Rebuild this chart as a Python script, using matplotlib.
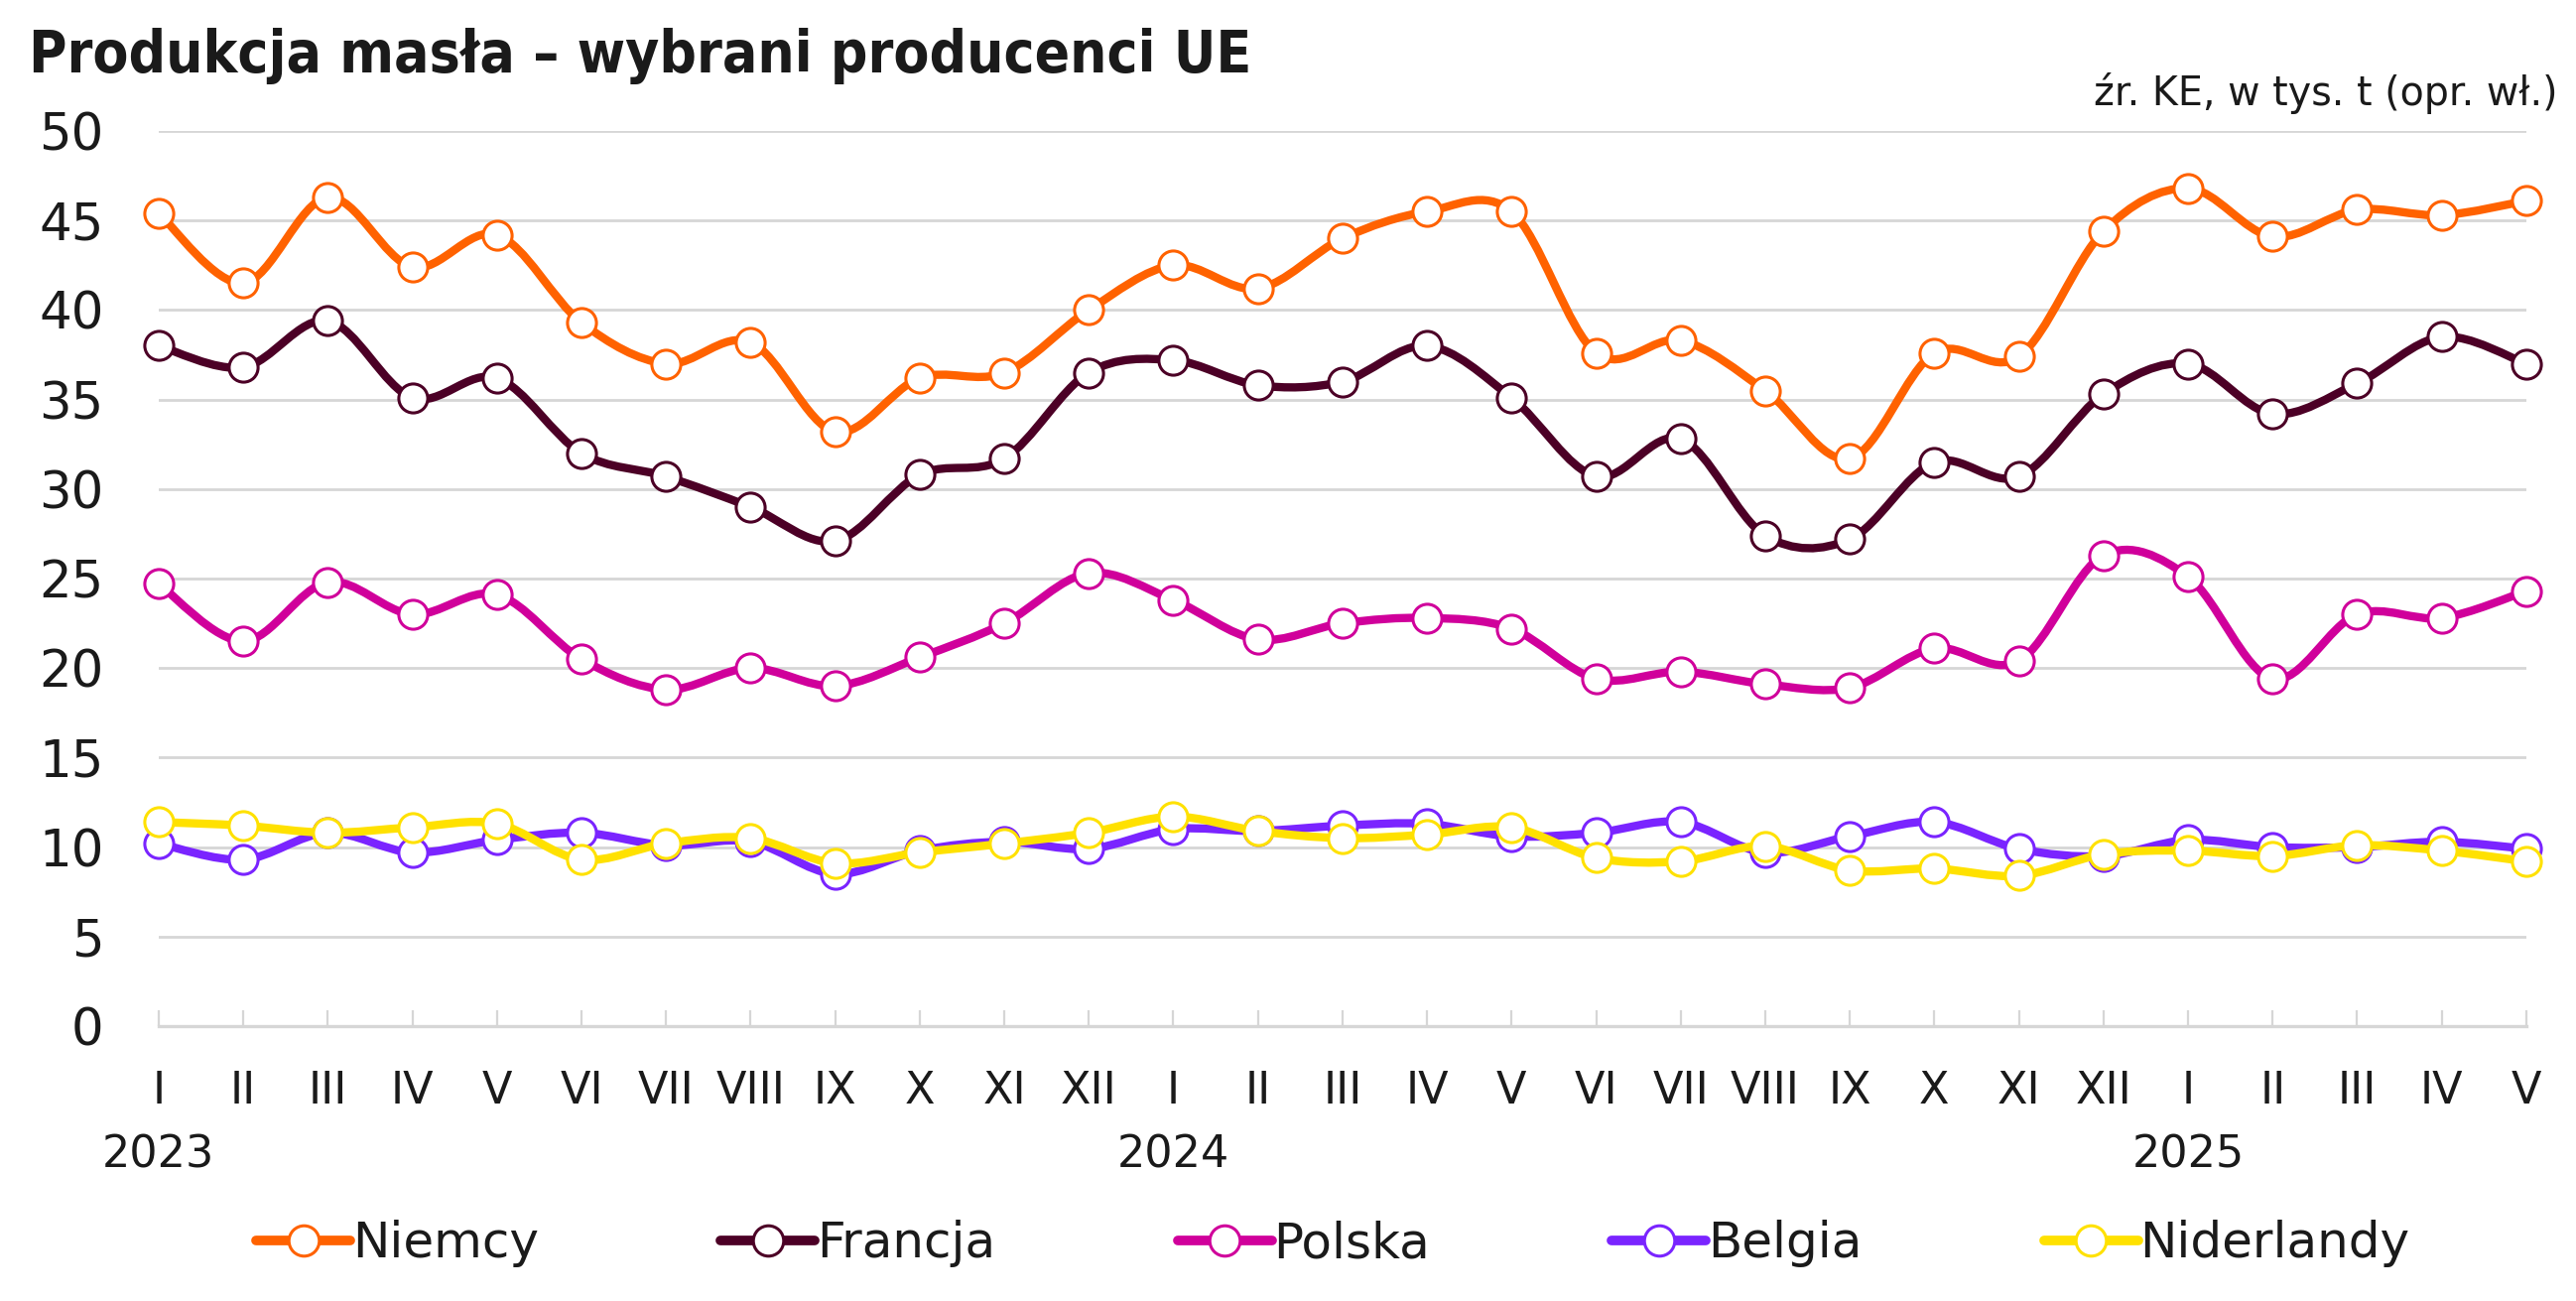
import matplotlib
matplotlib.use('Agg')
import matplotlib.pyplot as plt
from matplotlib.path import Path
from matplotlib.patches import PathPatch
from matplotlib.lines import Line2D
import numpy as np

plt.rcParams['font.family'] = ['DejaVu Sans']

# months Jan 2023 - May 2025
months = ['I', 'II', 'III', 'IV', 'V', 'VI', 'VII', 'VIII', 'IX', 'X', 'XI', 'XII',
          'I', 'II', 'III', 'IV', 'V', 'VI', 'VII', 'VIII', 'IX', 'X', 'XI', 'XII',
          'I', 'II', 'III', 'IV', 'V']
years = ['2023', '2024', '2025']
year_pos = [0, 12, 24]

niemcy = [45.4, 41.5, 46.3, 42.4, 44.2, 39.3, 37.0, 38.2, 33.2, 36.2, 36.5, 40.0,
          42.5, 41.2, 44.0, 45.5, 45.5, 37.6, 38.3, 35.5, 31.7, 37.6, 37.4, 44.4,
          46.8, 44.1, 45.6, 45.3, 46.1]
francja = [38.0, 36.8, 39.4, 35.1, 36.2, 32.0, 30.7, 29.0, 27.1, 30.8, 31.7, 36.5,
           37.2, 35.8, 36.0, 38.0, 35.1, 30.7, 32.8, 27.4, 27.2, 31.5, 30.7, 35.3,
           37.0, 34.2, 35.9, 38.5, 37.0]
polska = [24.7, 21.5, 24.8, 23.0, 24.1, 20.5, 18.8, 20.0, 19.0, 20.6, 22.5, 25.3,
          23.8, 21.6, 22.5, 22.8, 22.2, 19.4, 19.8, 19.1, 18.9, 21.1, 20.4, 26.3,
          25.1, 19.4, 23.0, 22.8, 24.3]
belgia = [10.2, 9.3, 10.8, 9.7, 10.4, 10.8, 10.1, 10.3, 8.5, 9.8, 10.3, 9.9,
          11.0, 10.9, 11.2, 11.3, 10.6, 10.8, 11.4, 9.7, 10.6, 11.4, 9.9, 9.5,
          10.4, 10.0, 10.0, 10.3, 9.9]
niderlandy = [11.4, 11.2, 10.8, 11.1, 11.3, 9.3, 10.2, 10.5, 9.1, 9.7, 10.2, 10.8,
              11.7, 10.9, 10.5, 10.7, 11.1, 9.4, 9.2, 10.05, 8.7, 8.8, 8.4, 9.6,
              9.8, 9.5, 10.1, 9.8, 9.2]

series = [('Niemcy', niemcy, '#FF6200'),
          ('Francja', francja, '#4C0026'),
          ('Polska', polska, '#D0009B'),
          ('Belgia', belgia, '#7A24FF'),
          ('Niderlandy', niderlandy, '#FFE100')]

text_col = '#1A1A1A'
grid_col = '#D6D6D6'


def smooth_path(x, y):
    # excel-like smoothed line: cubic bezier through every point
    pts = np.column_stack([x, y])
    n = len(pts)
    verts = [pts[0]]
    codes = [Path.MOVETO]
    for i in range(n - 1):
        p0 = pts[max(i - 1, 0)]
        p1 = pts[i]
        p2 = pts[i + 1]
        p3 = pts[min(i + 2, n - 1)]
        verts += [p1 + (p2 - p0) / 6, p2 - (p3 - p1) / 6, p2]
        codes += [Path.CURVE4] * 3
    return Path(verts, codes)


fig = plt.figure(figsize=(25.96, 13.11), dpi=100)
ax = fig.add_axes([0.0616, 0.2113, 0.9191, 0.688])

x = np.arange(len(months))
handles = []
for i, (name, vals, col) in enumerate(series):
    patch = PathPatch(smooth_path(x, vals), facecolor='none', edgecolor=col,
                      lw=6, capstyle='round', joinstyle='round',
                      zorder=3 + i * 2, clip_on=False)
    ax.add_patch(patch)
    ax.plot(x, vals, 'o', ms=21, mfc='white', mec=col, mew=2.2,
            zorder=4 + i * 2, clip_on=False)
    handles.append(Line2D([], [], color=col, lw=7, solid_capstyle='round',
                          marker='o', ms=22, mfc='white', mec=col, mew=2.2))

ax.set_xlim(0, len(months) - 1)
ax.set_ylim(0, 50)
ax.set_yticks(range(0, 51, 5))
ax.grid(axis='y', color=grid_col, lw=2)
ax.set_axisbelow(True)

for s in ['top', 'right', 'left']:
    ax.spines[s].set_visible(False)
ax.spines['bottom'].set_color(grid_col)
ax.spines['bottom'].set_linewidth(2.4)

ax.set_xticks(x)
ax.set_xticklabels(months)
ax.xaxis.remove_overlapping_locs = False
ax.set_xticks(year_pos, minor=True)
ax.set_xticklabels(years, minor=True)
ax.tick_params(axis='x', which='major', direction='in', length=11.5, width=1.6,
               color=grid_col, pad=32, labelsize=32, labelcolor=text_col)
ax.tick_params(axis='x', which='minor', length=0, pad=78, labelsize=32,
               labelcolor=text_col)
ax.tick_params(axis='y', length=0, pad=40, labelsize=37, labelcolor=text_col)

fig.text(0.0112, 0.9443, 'Produkcja masła – wybrani producenci UE', fontsize=42,
         fontweight='bold', fontstretch='condensed', color=text_col, va='baseline')
fig.text(0.9927, 0.9283, 'źr. KE, w tys. t (opr. wł.)', fontsize=28.5,
         color=text_col, ha='right', va='center')

fig.legend(handles, [s[0] for s in series], loc='center',
           bbox_to_anchor=(0.5175, 0.0442), ncol=5, frameon=False, fontsize=36,
           handlelength=1.9, handletextpad=0.03, columnspacing=3.67,
           labelcolor=text_col)

fig.savefig('out.png', dpi=100)
